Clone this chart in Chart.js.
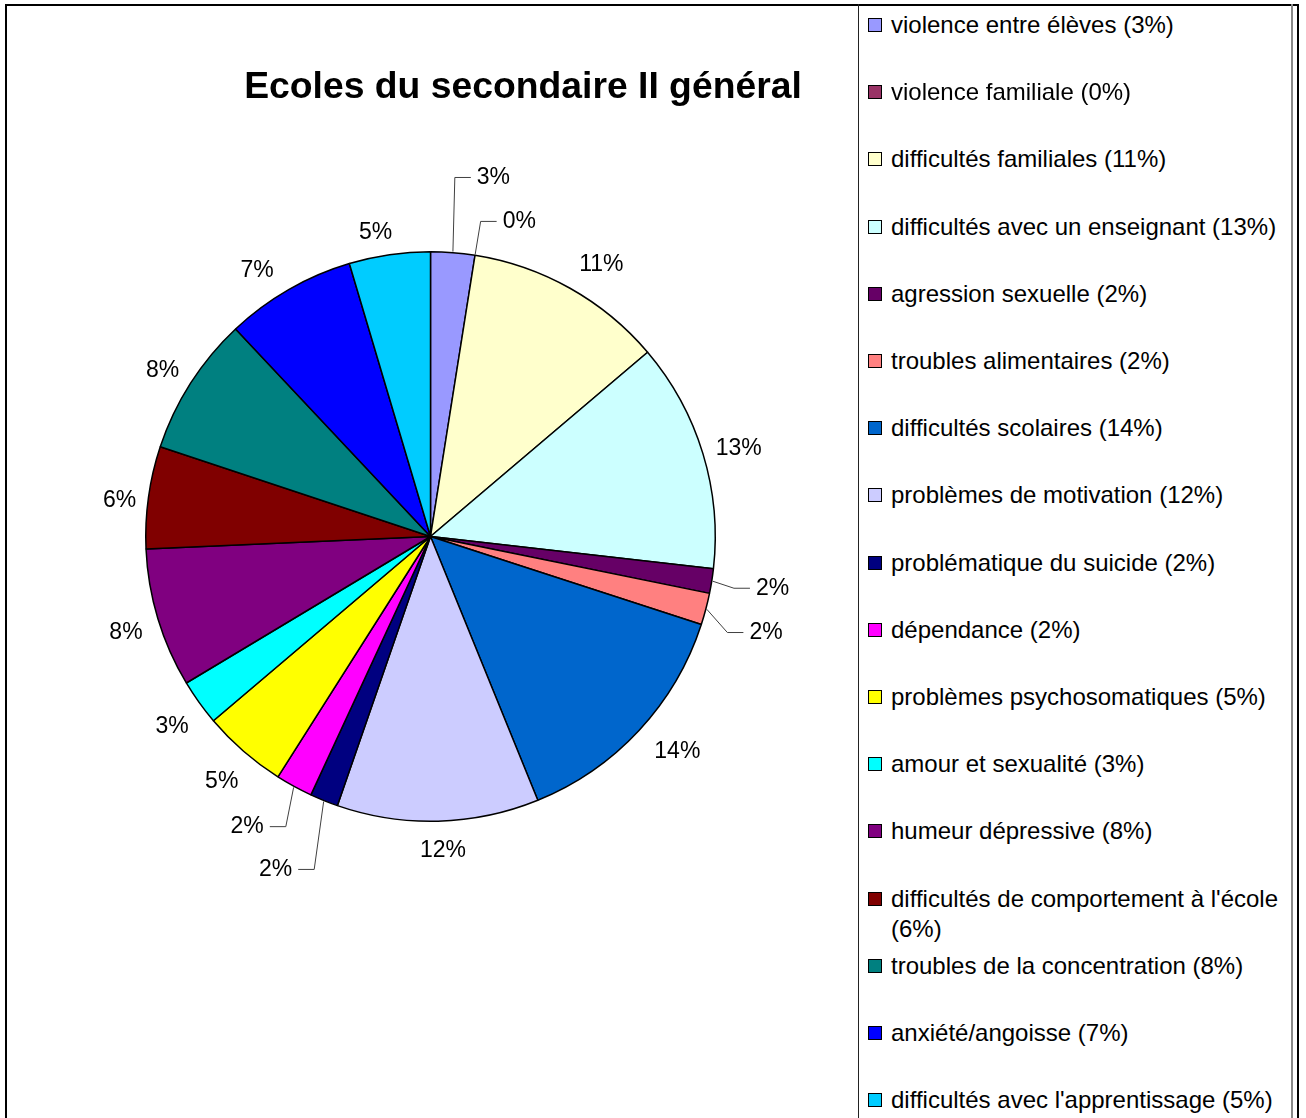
<!DOCTYPE html>
<html>
<head>
<meta charset="utf-8">
<script src="https://cdn.jsdelivr.net/npm/chart.js@4.4.0/dist/chart.umd.min.js"></script>
<style>
    body { margin: 0; width: 1306px; height: 1118px; overflow: hidden; background: #fff; font-family: "Liberation Sans", Arial, sans-serif; }
    #frame { position: absolute; left: 5px; top: 4px; width: 1290px; height: 1200px; border: 2px solid #000; }
    #pie { position: absolute; left: 0; top: 0; }
    #title { position: absolute; left: 0; width: 1046px; top: 63px; line-height: 44px; text-align: center; font-weight: bold; font-size: 37.3px; color: #000; }
    #legendBox { position: absolute; left: 858px; top: 4px; width: 432px; height: 1200px; border-left: 1px solid #222; border-right: 2px solid #888; }
    .mark { position: absolute; left: 868px; width: 14px; height: 14px; box-sizing: border-box; border: 1.5px solid #000; }
    .item { position: absolute; left: 891px; width: 395px; line-height: 30px; font-size: 24px; color: #000; }
</style>
</head>
<body>
<div id="frame"></div>
<div id="legendBox"></div>
<canvas id="pie" width="860" height="1118"></canvas>
<div id="title">Ecoles du secondaire II général</div>
<div id="legend"></div>
<script>
// categories, in drawing order (clockwise from 12 o'clock)
const categories = [
    'violence entre élèves',
    'violence familiale',
    'difficultés familiales',
    'difficultés avec un enseignant',
    'agression sexuelle',
    'troubles alimentaires',
    'difficultés scolaires',
    'problèmes de motivation',
    'problématique du suicide',
    'dépendance',
    'problèmes psychosomatiques',
    'amour et sexualité',
    'humeur dépressive',
    "difficultés de comportement à l'école",
    'troubles de la concentration',
    'anxiété/angoisse',
    "difficultés avec l'apprentissage"
];

// slice sizes (share of the circle, %)
const sliceValues = [2.5, 0, 11.3, 13.0, 1.4, 1.8, 13.85, 11.45, 1.6, 2.1, 4.8, 2.6, 7.9, 5.8, 7.9, 7.4, 4.6];

// percentages printed on the chart
const shownPct = [3, 0, 11, 13, 2, 2, 14, 12, 2, 2, 5, 3, 8, 6, 8, 7, 5];

const sliceColors = [
    '#9999FF', '#993366', '#FFFFCC', '#CCFFFF', '#660066', '#FF8080',
    '#0066CC', '#CCCCFF', '#000080', '#FF00FF', '#FFFF00', '#00FFFF',
    '#800080', '#800000', '#008080', '#0000FF', '#00CCFF'
];

// labels moved away from the slice, with a leader line (dx, dy in px)
const leaderShift = { 0: [38, -47], 1: [39, -6], 4: [28, -3], 5: [28, 10], 8: [-36, 33], 9: [-31, 6] };
// small hand placement of the other labels (dx, dy in px)
const labelNudge = { 2: [15, 0], 3: [4, 0], 6: [14, -6], 7: [4, -9], 13: [4, 3], 15: [-15, 5], 16: [-9, 6] };
const labelRadius = 318;
const labelFont = '23px "Liberation Sans", Arial, sans-serif';

// Draw the percentage labels outside the pie
const pieLabels = {
    id: 'pieLabels',
    afterDatasetsDraw(chart) {
        const ctx = chart.ctx;
        const arcs = chart.getDatasetMeta(0).data;
        ctx.save();
        ctx.font = labelFont;
        ctx.fillStyle = '#000';
        ctx.strokeStyle = '#404040';
        ctx.lineWidth = 1;
        ctx.textAlign = 'center';
        ctx.textBaseline = 'middle';
        arcs.forEach((arc, i) => {
            const p = arc.getProps(['x', 'y', 'startAngle', 'endAngle', 'outerRadius'], true);
            const mid = (p.startAngle + p.endAngle) / 2;
            const cos = Math.cos(mid), sin = Math.sin(mid);
            let lx = p.x + labelRadius * cos;
            let ly = p.y + labelRadius * sin + 5;
            const text = shownPct[i] + '%';
            const shift = leaderShift[i];
            const nudge = labelNudge[i];
            if (nudge) {
                lx += nudge[0];
                ly += nudge[1];
            }
            if (shift) {
                lx += shift[0];
                ly += shift[1];
                const w = ctx.measureText(text).width;
                const side = shift[0] >= 0 ? -1 : 1;
                const edgeX = lx + side * (w / 2 + 6);
                const elbowX = edgeX + side * 16;
                ctx.beginPath();
                ctx.moveTo(p.x + (p.outerRadius + 1) * cos, p.y + (p.outerRadius + 1) * sin);
                ctx.lineTo(elbowX, ly);
                ctx.lineTo(edgeX, ly);
                ctx.stroke();
            }
            ctx.fillText(text, lx, ly);
        });
        ctx.restore();
    }
};

const ctx = document.getElementById('pie').getContext('2d');
const pieChart = new Chart(ctx, {
    type: 'pie',
    data: {
        labels: categories,
        datasets: [{
            data: sliceValues,
            backgroundColor: sliceColors,
            borderColor: '#000',
            borderWidth: 1.5
        }]
    },
    options: {
        responsive: false,
        animation: false,
        layout: { padding: { left: 145, top: 251, right: 144, bottom: 296 } },
        plugins: {
            legend: { display: false },
            tooltip: { enabled: false }
        }
    },
    plugins: [pieLabels]
});

// Legend on the right, one row per category
const legend = document.getElementById('legend');
const rowTop = 25, rowStep = 67.2;
categories.forEach((name, i) => {
    const cy = rowTop + rowStep * i;
    const mark = document.createElement('div');
    mark.className = 'mark';
    mark.style.top = (cy - 7) + 'px';
    mark.style.background = sliceColors[i];
    legend.appendChild(mark);

    const item = document.createElement('div');
    item.className = 'item';
    item.style.top = (cy - 15) + 'px';
    item.textContent = name + ' (' + shownPct[i] + '%)';
    legend.appendChild(item);
});
</script>
</body>
</html>
